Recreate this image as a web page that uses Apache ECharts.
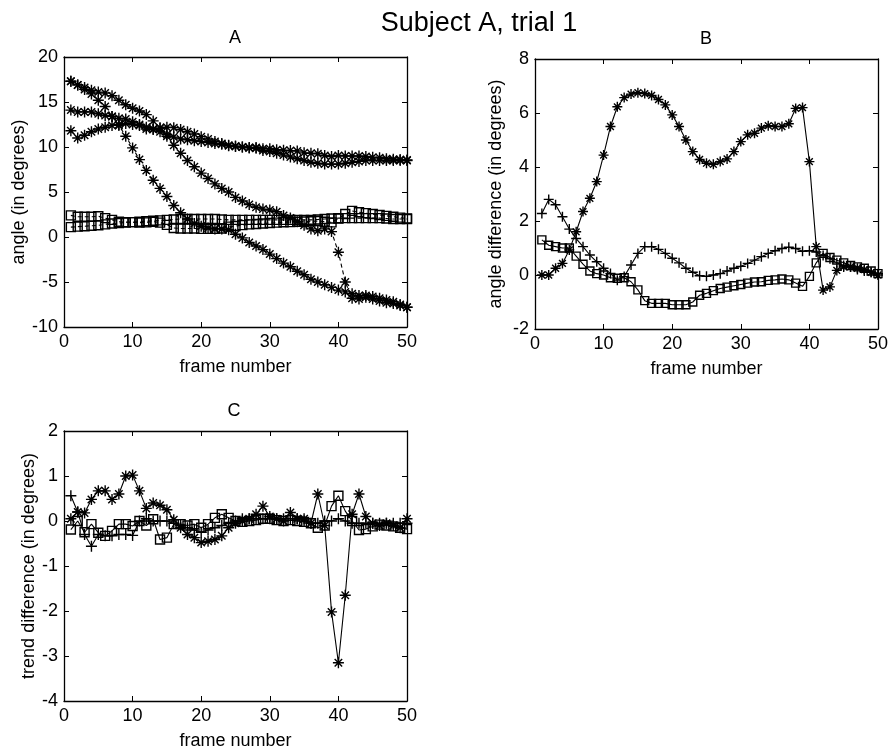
<!DOCTYPE html>
<html><head><meta charset="utf-8">
<script src="https://cdn.jsdelivr.net/npm/echarts@6/dist/echarts.min.js"></script>
<style>html,body{margin:0;padding:0;background:#fff}#c{width:891px;height:752px}</style>
</head><body><div id="c"></div>
<script>
const frames = [1,2,3,4,5,6,7,8,9,10,11,12,13,14,15,16,17,18,19,20,21,22,23,24,25,26,27,28,29,30,31,32,33,34,35,36,37,38,39,40,41,42,43,44,45,46,47,48,49,50];

// Panel A: angles (in degrees)
const angleStar1 = [17.3,16.9,16.4,15.9,15.2,14.5,13.4,12.4,11.2,9.9, 8.6,7.4,6.3,5.4,4.5,3.5,2.7,2.0,1.5,1.2, 1.0,0.9,0.9,0.8,0.3,-0.1,-0.6,-1.0,-1.4,-1.9, -2.4,-2.9,-3.3,-3.8,-4.2,-4.7,-5.0,-5.3,-5.6,-5.9, -6.1,-6.3,-6.5,-6.7,-6.9,-7.1,-7.3,-7.4,-7.6,-7.8];
const angleStar2 = [17.3,16.9,16.6,16.3,16.1,16.0,15.7,15.2,14.7,14.3, 14.0,13.6,12.9,12.1,11.2,10.2,9.3,8.5,7.8,7.1, 6.5,5.9,5.4,5.0,4.4,4.0,3.6,3.3,3.1,3.0, 2.8,2.4,2.1,1.7,1.3,0.9,0.7,0.9,0.6,-1.7, -5.0,-6.8,-6.9,-6.5,-6.6,-6.8,-7.0,-7.2,-7.5,-7.8];
const anglePlus1 = [14.1,13.9,13.9,13.9,13.7,13.5,13.4,13.2,13.1,12.8, 12.5,12.0,11.95,12.1,12.2,12.15,11.95,11.7,11.45,11.15, 10.9,10.6,10.4,10.15,10.05,10.0,9.95,9.95,9.8,9.8, 9.7,9.65,9.6,9.55,9.35,9.3,9.25,9.05,8.95,9.05, 9.0,9.0,9.0,8.95,8.85,8.8,8.7,8.65,8.6,8.55];
const anglePlus2 = [11.8,11.0,11.3,11.7,12.0,12.2,12.4,12.5,12.6,12.5, 12.4,12.2,12.0,11.7,11.4,11.1,10.9,10.8,10.7,10.6, 10.5,10.4,10.3,10.2,10.1,10.0,9.9,9.85,9.6,9.5, 9.3,9.1,8.9,8.7,8.5,8.3,8.2,8.1,8.1,8.1, 8.2,8.3,8.4,8.5,8.5,8.5,8.5,8.5,8.5,8.5];
const angleSquare1 = [2.4,2.25,2.25,2.25,2.3,2.1,1.9,1.7,1.65,1.65, 1.6,1.63,1.7,1.6,1.35,1.0,0.95,0.95,0.95,0.9, 0.9,0.9,0.95,1.15,1.22,1.32,1.4,1.45,1.5,1.55, 1.6,1.64,1.65,1.7,1.72,1.75,1.77,1.7,1.63,2.05, 2.55,2.9,2.75,2.65,2.55,2.45,2.35,2.25,2.15,2.05];
const angleSquare2 = [1.1,1.15,1.2,1.25,1.3,1.4,1.5,1.55,1.6,1.65, 1.7,1.75,1.8,1.85,1.9,1.95,2.0,2.0,2.0,2.0, 2.0,2.0,1.95,1.9,1.9,1.9,1.9,1.9,1.9,1.9, 1.9,1.9,1.9,1.9,1.9,1.9,1.95,2.0,2.05,2.1, 2.1,2.1,2.1,2.1,2.1,2.1,2.05,2.0,2.0,2.0];

// Panel B: angle differences
const diffStar = [0,0,0.25,0.43,0.93,1.6,2.35,2.84,3.46,4.44, 5.5,6.23,6.57,6.7,6.75,6.72,6.65,6.5,6.3,5.93, 5.5,5.0,4.57,4.28,4.14,4.1,4.2,4.3,4.57,4.94, 5.19,5.25,5.44,5.53,5.5,5.5,5.6,6.17,6.2,4.2, 1.05,-0.56,-0.44,0.17,0.3,0.3,0.25,0.2,0.1,0.0];
const diffPlus = [2.28,2.8,2.6,2.16,1.7,1.35,1.05,0.74,0.49,0.25, 0.06,-0.19,-0.06,0.37,0.8,1.05,1.05,0.95,0.8,0.62, 0.45,0.25,0.1,-0.03,-0.05,0.0,0.05,0.15,0.25,0.32, 0.43,0.55,0.68,0.8,0.9,0.98,1.03,0.98,0.88,0.9, 0.85,0.72,0.6,0.45,0.35,0.3,0.2,0.15,0.1,0.05];
const diffSquare = [1.3,1.1,1.05,1.0,1.0,0.7,0.4,0.15,0.05,0.0, -0.1,-0.12,-0.1,-0.25,-0.55,-0.95,-1.05,-1.05,-1.05,-1.1, -1.1,-1.1,-1.0,-0.75,-0.68,-0.58,-0.5,-0.45,-0.4,-0.35, -0.3,-0.26,-0.25,-0.2,-0.18,-0.15,-0.18,-0.3,-0.42,-0.05, 0.45,0.8,0.65,0.55,0.45,0.35,0.3,0.25,0.15,0.05];

// Panel C: trend differences
const trendStar = [0.05,0.2,0.18,0.48,0.67,0.67,0.48,0.6,1.0,1.02, 0.67,0.28,0.4,0.35,0.25,0.03,-0.15,-0.3,-0.37,-0.48, -0.45,-0.41,-0.33,-0.15,-0.05,0.0,0.05,0.15,0.33,0.1, 0.05,0.0,0.19,0.05,0.05,-0.05,0.6,-0.1,-2.02,-3.15, -1.65,0.15,0.6,0.1,-0.05,-0.1,-0.05,-0.1,-0.15,0.05];
const trendPlus = [0.56,0.2,-0.3,-0.56,-0.3,-0.33,-0.33,-0.3,-0.3,-0.32, 0.0,0.05,0.0,0.0,0.0,-0.05,-0.1,-0.15,-0.2,-0.25, -0.2,-0.15,-0.1,-0.05,0.0,0.05,0.05,0.05,0.05,0.05, 0.05,0.05,0.05,0.05,0.0,-0.05,-0.05,0.0,0.0,0.05, 0.0,-0.05,-0.05,-0.05,-0.05,-0.05,-0.05,-0.05,-0.05,-0.05];
const trendSquare = [-0.19,0.0,-0.25,-0.07,-0.26,-0.33,-0.22,-0.07,-0.07,-0.11, 0.0,-0.1,0.04,-0.41,-0.37,-0.07,-0.07,-0.1,-0.07,-0.15, -0.07,0.07,0.15,0.07,0.0,-0.02,0.0,0.02,0.05,0.05, 0.02,0.0,0.02,0.0,-0.02,-0.05,-0.15,-0.1,0.33,0.56, 0.22,0.0,-0.2,-0.18,-0.12,-0.08,-0.1,-0.12,-0.15,-0.18];

const mainTitle = 'Subject A, trial 1';
const panelTitles = ['A', 'B', 'C'];
const xName = 'frame number';
const yNames = ['angle (in degrees)', 'angle difference (in degrees)', 'trend difference (in degrees)'];

const FONT = '"Liberation Sans", Arial, Helvetica, sans-serif';
const STAR = 'path://M5,0L5,10M0,5L10,5M1.6,1.6L8.4,8.4M1.6,8.4L8.4,1.6';
const PLUS = 'path://M5,0L5,10M0,5L10,5';
const SQUARE = 'path://M0,0L10,0L10,10L0,10Z';

function pts(vals) { return frames.map((f, i) => [f, vals[i]]); }

const grids = [
  {left: 64, top: 57, width: 343, height: 270},
  {left: 535, top: 59, width: 343, height: 270},
  {left: 64, top: 431, width: 343, height: 270}
];
const yRanges = [[-10, 20, 5], [-2, 8, 2], [-4, 2, 1]];
const yNameGaps = [30, 30, 26];

const xAxes = [], yAxes = [];
const lineAx = {show: true, onZero: false, lineStyle: {color: '#000', width: 1.3}};
const tickAx = {show: true, inside: true, length: 5, lineStyle: {color: '#000', width: 1}};
grids.forEach((g, i) => {
  xAxes.push({type: 'value', gridIndex: i, position: 'bottom', min: 0, max: 50, interval: 10,
    axisLine: lineAx, axisTick: tickAx, splitLine: {show: false},
    axisLabel: {color: '#000', fontSize: 18, fontFamily: FONT, margin: 6},
    name: xName, nameLocation: 'middle', nameGap: 31,
    nameTextStyle: {color: '#000', fontSize: 18, fontFamily: FONT}});
  xAxes.push({type: 'value', gridIndex: i, position: 'top', min: 0, max: 50, interval: 10,
    axisLine: lineAx, axisTick: tickAx, splitLine: {show: false}, axisLabel: {show: false}});
  const r = yRanges[i];
  yAxes.push({type: 'value', gridIndex: i, position: 'left', min: r[0], max: r[1], interval: r[2],
    axisLine: lineAx, axisTick: tickAx, splitLine: {show: false},
    axisLabel: {color: '#000', fontSize: 18, fontFamily: FONT, margin: 6},
    name: yNames[i], nameLocation: 'middle', nameGap: yNameGaps[i], nameRotate: 90,
    nameTextStyle: {color: '#000', fontSize: 18, fontFamily: FONT}});
  yAxes.push({type: 'value', gridIndex: i, position: 'right', min: r[0], max: r[1], interval: r[2],
    axisLine: lineAx, axisTick: tickAx, splitLine: {show: false}, axisLabel: {show: false}});
});

function mk(vals, panel, symbol, size, dashed) {
  return {
    type: 'line', data: pts(vals), xAxisIndex: panel * 2, yAxisIndex: panel * 2,
    symbol: symbol, symbolSize: size, showAllSymbol: true, silent: true,
    lineStyle: {color: '#000', width: 1.1, type: dashed ? [4, 3] : 'solid'},
    itemStyle: {color: 'rgba(0,0,0,0)', borderColor: '#000', borderWidth: 1.4},
    emphasis: {disabled: true}, animation: false
  };
}

const series = [
  mk(angleSquare1, 0, SQUARE, 9, true),
  mk(angleSquare2, 0, SQUARE, 9, true),
  mk(anglePlus1, 0, STAR, 11, true),
  mk(anglePlus2, 0, STAR, 11, true),
  mk(angleStar1, 0, STAR, 11, true),
  mk(angleStar2, 0, STAR, 11, true),
  mk(diffStar, 1, STAR, 10, false),
  mk(diffPlus, 1, PLUS, 10, false),
  mk(diffSquare, 1, SQUARE, 8, false),
  mk(trendStar, 2, STAR, 11, false),
  mk(trendPlus, 2, PLUS, 11, false),
  mk(trendSquare, 2, SQUARE, 9, false)
];

const txt = (t, x, y, size) => ({type: 'text', x: x, y: y, silent: true,
  style: {text: t, fill: '#000', font: size + 'px ' + FONT, textAlign: 'center', textVerticalAlign: 'middle'}});

const chart = echarts.init(document.getElementById('c'), null, {renderer: 'canvas'});
chart.setOption({
  animation: false,
  backgroundColor: '#fff',
  grid: grids,
  xAxis: xAxes,
  yAxis: yAxes,
  series: series,
  graphic: [
    txt(mainTitle, 479, 24, 27),
    txt(panelTitles[0], 235, 38, 18),
    txt(panelTitles[1], 706, 39, 18),
    txt(panelTitles[2], 234, 411, 18)
  ]
});
</script>
</body></html>
